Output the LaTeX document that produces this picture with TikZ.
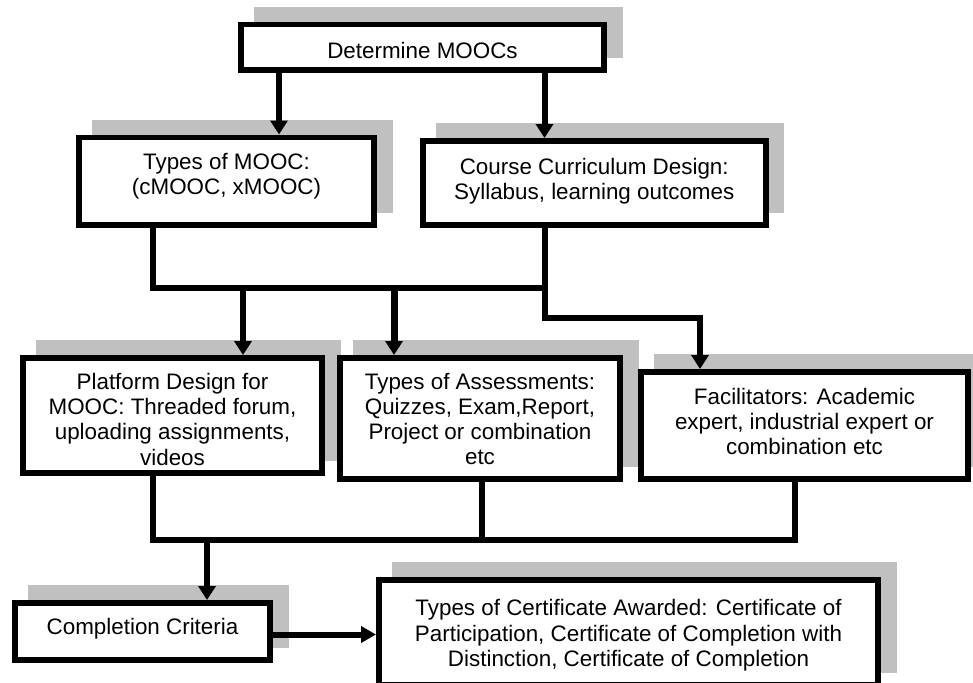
\documentclass[tikz,border=0pt]{standalone}
\usepackage{fontspec}
\setmainfont{Liberation Sans}
\usetikzlibrary{arrows.meta}
\definecolor{shd}{RGB}{192,192,192}
\newcommand\sH[1]{\rule{0pt}{#1pt}}
\newcommand\sD[1]{\rule[-#1pt]{0pt}{#1pt}}
\begin{document}
\begin{tikzpicture}[x=1pt,y=-1pt,
  box/.style={draw=black, fill=white, line width=5.7pt, inner sep=0pt, align=center,
    font=\fontsize{22.4pt}{25.3pt}\selectfont,
    preaction={draw=shd, fill=shd, line width=5.7pt, transform canvas={shift={(15.5pt,15pt)}}}},
  conn/.style={line width=6pt, line join=miter},
  arr/.style={conn, -{Triangle[length=14pt,width=17pt]}}
]
\useasboundingbox (0,0) rectangle (973,682);
\clip (0,0) rectangle (973,682);

% boxes
\node[box, minimum width=363.3pt, minimum height=45.3pt] (top) at (422.5,47.2)
  {\sH{28.2}\sD{6}Determine MOOCs};
\node[box, minimum width=295.3pt, minimum height=87.8pt] (tom) at (226.5,181.25)
  {\sH{17}Types of MOOC:\\(cMOOC, xMOOC)\sD{15.2}};
\node[box, minimum width=342.8pt, minimum height=84.3pt] (ccd) at (594.25,183)
  {\sH{17}Course Curriculum Design:\\Syllabus, learning outcomes\sD{9.1}};
\node[box, minimum width=299.3pt, minimum height=115pt] (plat) at (172.5,415.4)
  {\sH{29.7}Platform Design for\\MOOC: Threaded forum,\\uploading assignments,\\videos\sD{6}};
\node[box, minimum width=280.3pt, minimum height=121.3pt] (ass) at (480,418.5)
  {\sH{22.9}Types of Assessments:\\Quizzes, Exam,Report,\\Project or combination\\etc\sD{6}};
\node[box, minimum width=327.3pt, minimum height=107.3pt] (fac) at (804.5,425.5)
  {\sH{17}Facilitators: Academic\\expert, industrial expert or\\combination etc\sD{9.4}};
\node[box, minimum width=255.3pt, minimum height=57.3pt] (comp) at (142.5,631.5)
  {\sH{17}\sD{11}Completion Criteria};
\node[box, minimum width=499.3pt, minimum height=105.3pt] (cert) at (628.5,632.5)
  {\sH{23}Types of Certificate Awarded: Certificate of\\Participation, Certificate of Completion with\\Distinction, Certificate of Completion\sD{6}};

% top arrows
\coordinate (a0) at (279,0);
\coordinate (b0) at (544.5,0);
\draw[arr] (top.south -| a0) -- (tom.north -| a0);
\draw[arr] (top.south -| b0) -- (ccd.north -| b0);

% middle tree
\coordinate (j1) at (153,288);
\coordinate (j2) at (545,288);
\coordinate (j3) at (545,318);
\coordinate (j4) at (700,318);
\coordinate (a1) at (243,288);
\coordinate (a2) at (394,288);
\draw[conn] (tom.south -| j1) -- (j1) -- (j2) -- (ccd.south -| j2);
\draw[arr] (j2) -- (j3) -- (j4) -- (fac.north -| j4);
\draw[arr] (a1) -- (plat.north -| a1);
\draw[arr, line width=7pt] (a2) -- (ass.north -| a2);

% bottom tree
\coordinate (k1) at (153,540);
\coordinate (k2) at (482,540);
\coordinate (k3) at (795,540);
\coordinate (k4) at (207,540);
\draw[conn] (plat.south -| k1) -- (k1) -- (k3) -- (fac.south -| k3);
\draw[conn] (ass.south -| k2) -- (k2);
\draw[arr] (k4) -- (comp.north -| k4);
\coordinate (m) at (0,634.5);
\draw[conn, -{Triangle[length=15pt,width=16pt]}] (comp.east |- m) -- (cert.west |- m);
\end{tikzpicture}
\end{document}
